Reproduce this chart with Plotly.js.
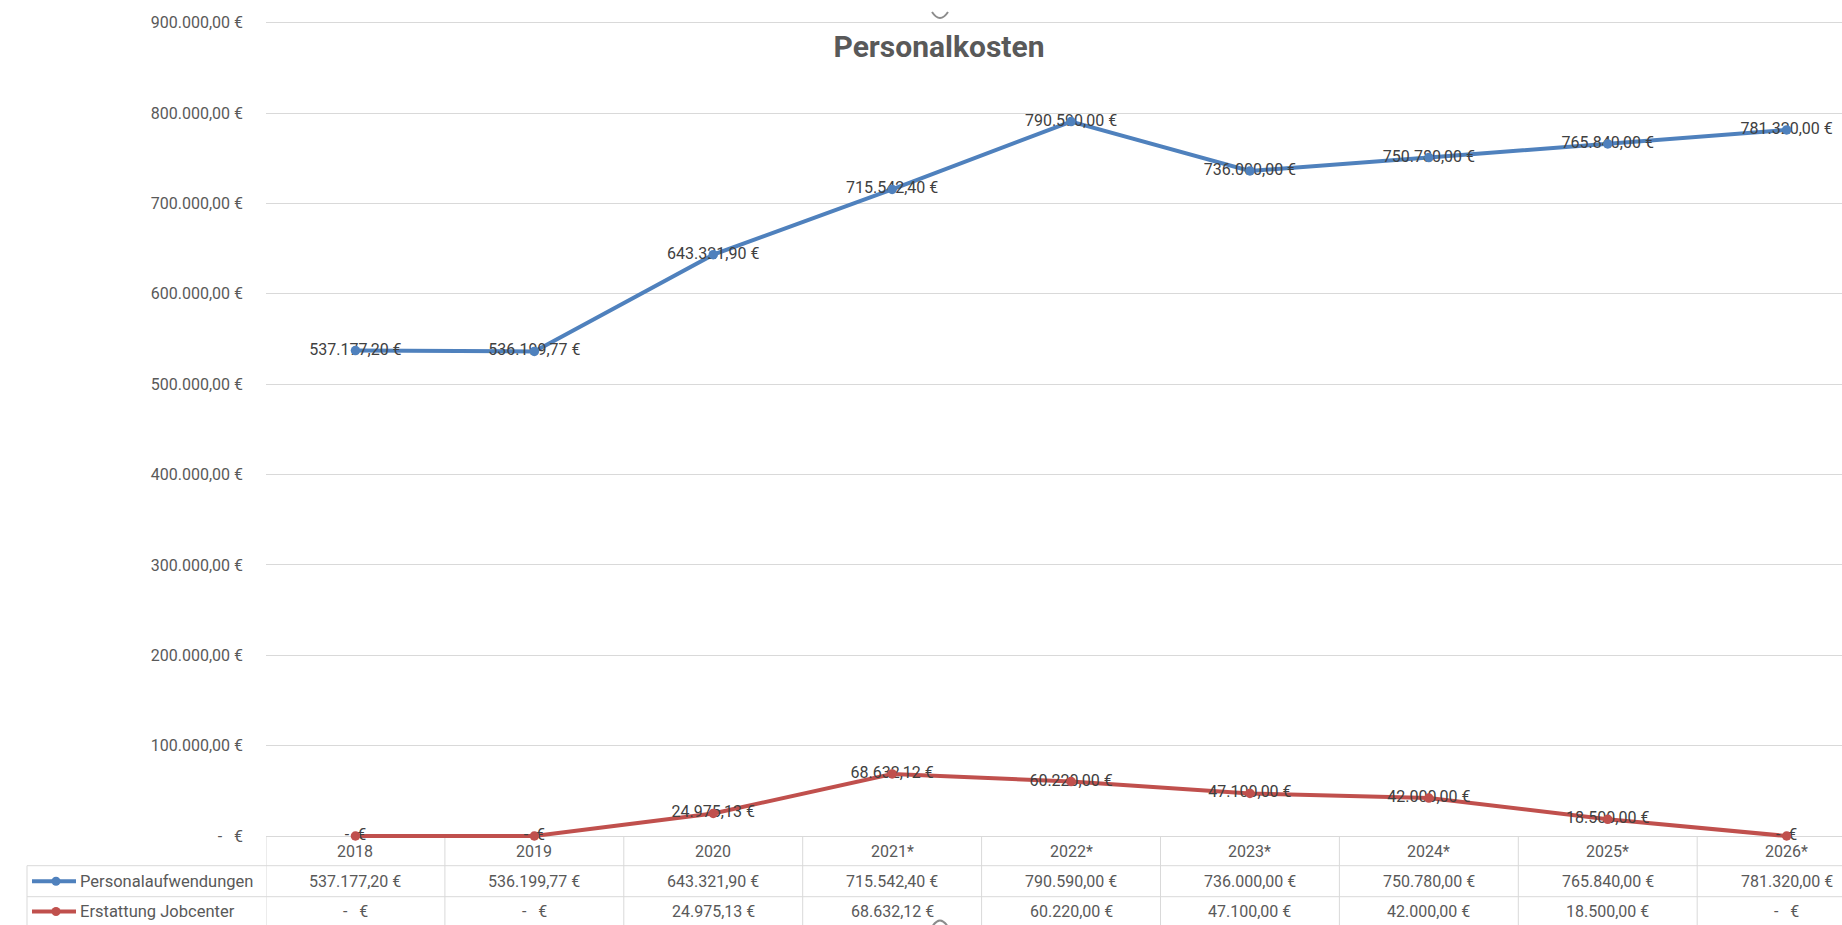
<!DOCTYPE html>
<html>
<head>
<meta charset="utf-8">
<script src="https://cdn.plot.ly/plotly-3.0.1.min.js"></script>
<style>
html, body { margin: 0; padding: 0; background: #ffffff; }
#chart { width: 1842px; height: 925px; }
</style>
</head>
<body>
<div id="chart"></div>
<script>
// ---------- data ----------
const categories = ['2018', '2019', '2020', '2021*', '2022*', '2023*', '2024*', '2025*', '2026*'];
const personalaufwendungen = [537177.20, 536199.77, 643321.90, 715542.40, 790590.00, 736000.00, 750780.00, 765840.00, 781320.00];
const erstattungJobcenter = [0, 0, 24975.13, 68632.12, 60220.00, 47100.00, 42000.00, 18500.00, 0];
const seriesNames = ['Personalaufwendungen', 'Erstattung Jobcenter'];
const yTickValues = [0, 100000, 200000, 300000, 400000, 500000, 600000, 700000, 800000, 900000];
const chartTitle = 'Personalkosten';

// ---------- formatting ----------
function fmtEUR(v, zeroText) {
  if (v === 0) return zeroText;
  const parts = v.toFixed(2).split('.');
  const intPart = parts[0].replace(/\B(?=(\d{3})+(?!\d))/g, '.');
  return intPart + ',' + parts[1] + '\u00a0€';
}
const NB = '\u00a0';

// ---------- geometry ----------
const W = 1842, H = 925;
const M = { l: 266, r: 0, t: 10, b: 79 };
const plotW = W - M.l - M.r, plotH = H - M.t - M.b;
const zeroPx = 836, topPx = 22.7;               // pixel rows of 0 and 900k
const unitPerPx = 900000 / (zeroPx - topPx);
const yMin = -((H - M.b) - zeroPx) * unitPerPx;
const yMax = (zeroPx - M.t) * unitPerPx;
const colW = 178.9;
const xMax = -0.5 + plotW / colW;
const xp = px => (px - M.l) / plotW;
const yp = py => ((H - M.b) - py) / plotH;

const FONT = 'Roboto, "Open Sans", sans-serif';
const TXT = '#595959';
const LBL = '#404040';
const GRID = '#D9D9D9';
const colors = ['#4F81BD', '#C0504D'];
const series = [personalaufwendungen, erstattungJobcenter];

// ---------- traces ----------
const traces = [];
series.forEach((vals, i) => {
  traces.push({
    type: 'scatter', mode: 'lines', x: categories, y: vals, name: seriesNames[i],
    line: { color: colors[i], width: 4 }, showlegend: false, hoverinfo: 'skip'
  });
});
series.forEach((vals, i) => {
  traces.push({
    type: 'scatter', mode: 'text', x: categories, y: vals, name: seriesNames[i] + ' Label',
    text: vals.map(v => fmtEUR(v, '-' + NB + NB + '€')),
    textposition: 'middle center', cliponaxis: false,
    textfont: { family: FONT, size: 16, color: LBL }, showlegend: false, hoverinfo: 'skip'
  });
});
series.forEach((vals, i) => {
  traces.push({
    type: 'scatter', mode: 'markers', x: categories, y: vals, name: seriesNames[i],
    marker: { color: colors[i], size: 9.5, symbol: 'circle' }, cliponaxis: false,
    showlegend: false, hovertemplate: '%{x}: %{y}<extra>' + seriesNames[i] + '</extra>'
  });
});

// ---------- data table (annotations + shapes) ----------
const rowY = [851, 881.2, 911.5];
const rowLines = [865.7, 896.7];
const annotations = [];
const shapes = [];

// category positions on a category axis are their indices
categories.forEach((c, j) => {
  annotations.push({
    xref: 'x', yref: 'paper', x: j, y: yp(rowY[0]), text: c, showarrow: false,
    xanchor: 'center', yanchor: 'middle', font: { family: FONT, size: 16, color: TXT }
  });
  series.forEach((vals, i) => {
    annotations.push({
      xref: 'x', yref: 'paper', x: j, y: yp(rowY[i + 1]),
      text: fmtEUR(vals[j], '-' + NB + NB + NB + '€'), showarrow: false,
      xanchor: 'center', yanchor: 'middle', font: { family: FONT, size: 16, color: TXT }
    });
  });
});
seriesNames.forEach((n, i) => {
  annotations.push({
    xref: 'paper', yref: 'paper', x: xp(78), y: yp(rowY[i + 1]), text: n, showarrow: false,
    xanchor: 'left', yanchor: 'middle', font: { family: FONT, size: 16.5, color: TXT }
  });
  // legend key
  shapes.push({
    type: 'line', xref: 'paper', yref: 'paper', x0: xp(32), x1: xp(76),
    y0: yp(rowY[i + 1]), y1: yp(rowY[i + 1]), line: { color: colors[i], width: 4 }
  });
  shapes.push({
    type: 'circle', xref: 'paper', yref: 'paper', x0: xp(51.5), x1: xp(60.5),
    y0: yp(rowY[i + 1] + 4.5), y1: yp(rowY[i + 1] - 4.5),
    fillcolor: colors[i], line: { color: colors[i], width: 0 }
  });
});
// horizontal table lines
rowLines.forEach(py => {
  shapes.push({
    type: 'line', xref: 'paper', yref: 'paper', x0: xp(27), x1: 1, y0: yp(py), y1: yp(py),
    line: { color: GRID, width: 1 }, layer: 'below'
  });
});
// left border of the label column
shapes.push({
  type: 'line', xref: 'paper', yref: 'paper', x0: xp(27), x1: xp(27), y0: yp(rowLines[0]), y1: yp(H + 2),
  line: { color: GRID, width: 1 }, layer: 'below'
});
// column boundaries
for (let k = 0; k < categories.length; k++) {
  shapes.push({
    type: 'line', xref: 'x', yref: 'paper', x0: k - 0.5, x1: k - 0.5, y0: yp(zeroPx), y1: yp(H + 2),
    line: { color: GRID, width: 1 }, layer: 'below'
  });
}
// selection handles (top & bottom)
shapes.push({
  type: 'path', xref: 'paper', yref: 'paper',
  path: 'M ' + xp(932) + ' ' + yp(12) + ' Q ' + xp(940) + ' ' + yp(24) + ' ' + xp(948) + ' ' + yp(12),
  line: { color: '#8C8C8C', width: 2 }
});
shapes.push({
  type: 'path', xref: 'paper', yref: 'paper',
  path: 'M ' + xp(932) + ' ' + yp(927) + ' Q ' + xp(940) + ' ' + yp(914) + ' ' + xp(948) + ' ' + yp(927),
  line: { color: '#8C8C8C', width: 2 }
});

// ---------- layout ----------
const layout = {
  width: W, height: H,
  margin: M,
  paper_bgcolor: '#ffffff', plot_bgcolor: '#ffffff',
  showlegend: false,
  title: {
    text: '<b>' + chartTitle + '</b>',
    font: { family: FONT, size: 30, color: TXT },
    xref: 'container', yref: 'container', x: 939 / W, y: 1 - 46 / H,
    xanchor: 'center', yanchor: 'middle'
  },
  xaxis: {
    type: 'category', range: [-0.5, xMax], showticklabels: false,
    showgrid: false, zeroline: false, showline: false, ticks: '', fixedrange: true
  },
  yaxis: {
    range: [yMin, yMax], tickmode: 'array', tickvals: yTickValues,
    ticktext: yTickValues.map(v => fmtEUR(v, '-' + NB + NB + NB + '€')),
    showgrid: true, gridcolor: GRID, gridwidth: 1,
    zeroline: true, zerolinecolor: GRID, zerolinewidth: 1,
    showline: false, ticks: '', ticklabelstandoff: 22,
    tickfont: { family: FONT, size: 16, color: TXT }, fixedrange: true
  },
  annotations: annotations,
  shapes: shapes
};

Plotly.newPlot('chart', traces, layout, { displayModeBar: false, staticPlot: false, responsive: false });
</script>
</body>
</html>
